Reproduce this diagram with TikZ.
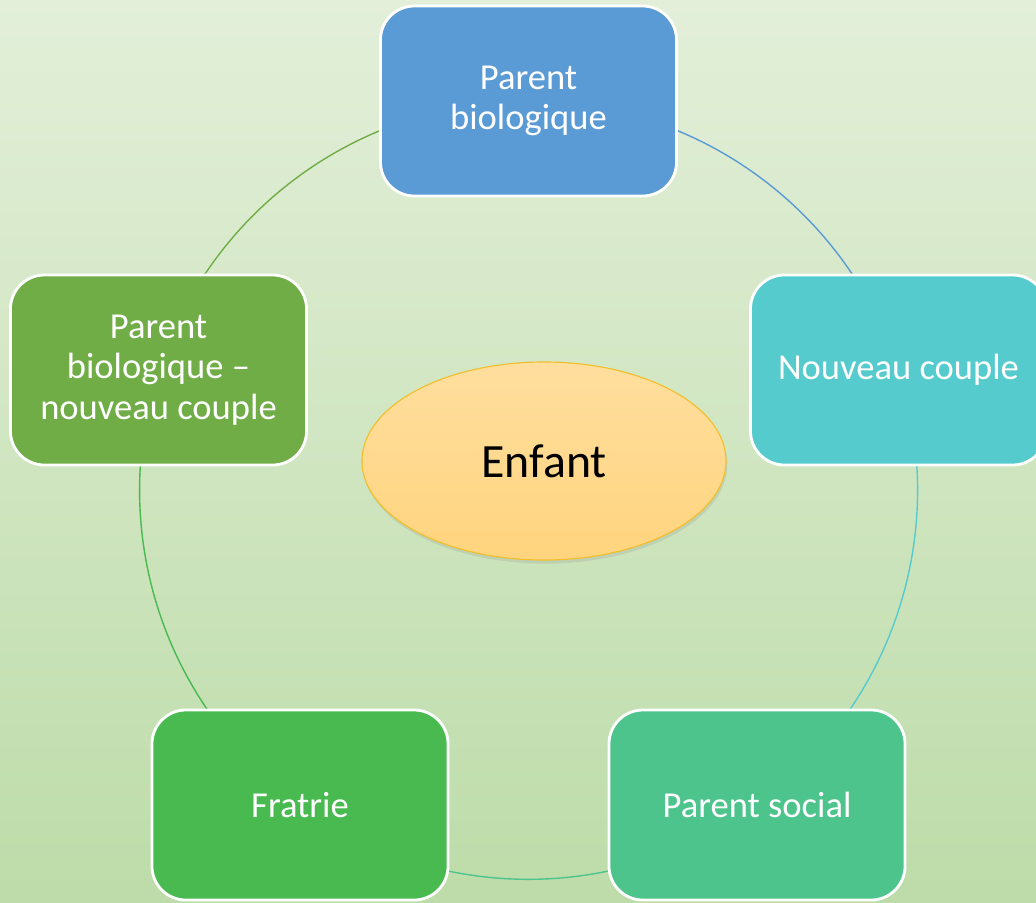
\documentclass[tikz,border=0pt]{standalone}
\usepackage{fontspec}
\setmainfont{Carlito}
\usetikzlibrary{shapes.geometric, backgrounds, shadows}

\definecolor{bgtop}{HTML}{E3EFD9}
\definecolor{bgbottom}{HTML}{BDDCA9}
\definecolor{pbblue}{HTML}{5B9BD5}
\definecolor{nccyan}{HTML}{56CBCE}
\definecolor{psteal}{HTML}{4EC48D}
\definecolor{frgreen}{HTML}{48BA4F}
\definecolor{pnolive}{HTML}{70AD47}
\definecolor{kidtop}{HTML}{FFDE9E}
\definecolor{kidbottom}{HTML}{FFD47E}
\definecolor{kidline}{HTML}{F4BE2A}

\begin{document}
\begin{tikzpicture}[x=0.025cm, y=-0.025cm,
    box/.style={rectangle, rounded corners=0.85cm, draw=white, line width=2pt,
        minimum width=7.4cm, minimum height=4.75cm, text=white, align=center,
        font=\fontsize{26}{29}\selectfont},
    ring/.style={line width=1pt}]
    \useasboundingbox (0,0) rectangle (1036,902);

    \node[box, fill=pbblue] (pb) at (528.5,101) {Parent\\biologique};
    \node[box, fill=nccyan] (nc) at (898.5,370) {Nouveau couple};
    \node[box, fill=psteal] (ps) at (757,805) {Parent social};
    \node[box, fill=frgreen] (fr) at (300,805) {Fratrie};
    \node[box, fill=pnolive] (pn) at (158.5,370) {Parent\\biologique –\\nouveau couple};

    \node[ellipse, draw=kidline, line width=0.8pt, top color=kidtop, bottom color=kidbottom,
        minimum width=9.1cm, minimum height=4.95cm, font=\fontsize{34}{40}\selectfont,
        drop shadow={opacity=0.18, shadow xshift=0.03cm, shadow yshift=-0.09cm}]
        (kid) at (544,461) {Enfant};

    \begin{scope}[on background layer]
        \fill[top color=bgtop, bottom color=bgbottom] (0,0) rectangle (1036,902);
        % ring of arcs, one per box
        \draw[ring, pbblue] (pb.center) arc[start angle=90, end angle=18, radius=9.725cm];
        \draw[ring, nccyan] (nc.center) arc[start angle=18, end angle=-54, radius=9.725cm];
        \draw[ring, psteal] (ps.center) arc[start angle=-54, end angle=-126, radius=9.725cm];
        \draw[ring, frgreen] (fr.center) arc[start angle=-126, end angle=-198, radius=9.725cm];
        \draw[ring, pnolive] (pn.center) arc[start angle=162, end angle=90, radius=9.725cm];
    \end{scope}
\end{tikzpicture}
\end{document}
